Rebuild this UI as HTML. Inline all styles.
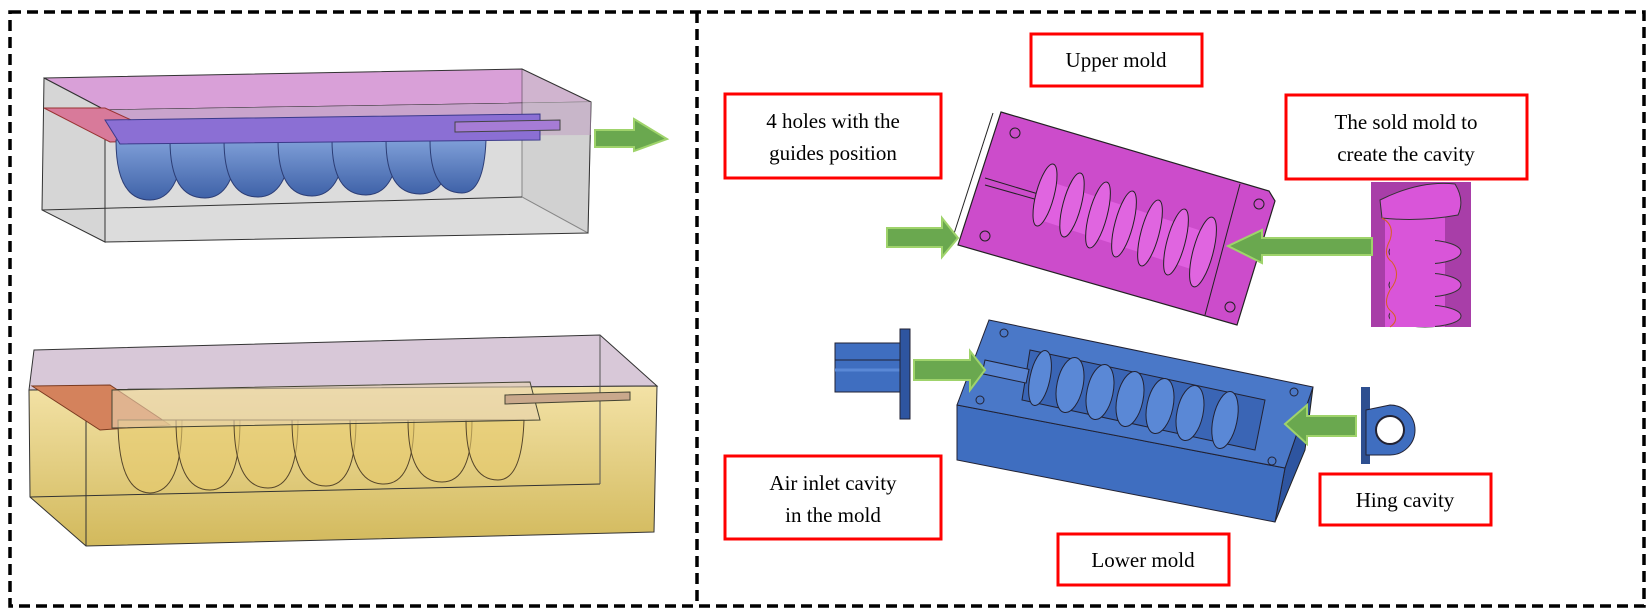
<!DOCTYPE html>
<html><head><meta charset="utf-8"><style>
html,body{margin:0;padding:0;background:#fff;}
svg{display:block;}
text{font-family:"Liberation Serif",serif;font-size:21px;fill:#000;}
</style></head><body>
<svg width="1649" height="611" viewBox="0 0 1649 611" xmlns="http://www.w3.org/2000/svg">
<defs>
<linearGradient id="bl" x1="0" y1="0" x2="0" y2="1"><stop offset="0" stop-color="#7f9fd8"/><stop offset="1" stop-color="#3f62a8"/></linearGradient>
<linearGradient id="ye" x1="0" y1="0" x2="0" y2="1"><stop offset="0" stop-color="#f3e2a6"/><stop offset="1" stop-color="#d2b95c"/></linearGradient>
</defs>
<!-- borders -->
<rect x="10" y="12" width="1634" height="594" fill="none" stroke="#000" stroke-width="3.5" stroke-dasharray="11,6"/>
<line x1="697" y1="12" x2="697" y2="606" stroke="#000" stroke-width="3.5" stroke-dasharray="11,6"/>

<!-- TOP LEFT BOX -->
<polygon points="44,78 522,69 591,102 105,110" fill="#d9a0d8" stroke="#333" stroke-width="1"/>
<polygon points="44,78 105,110 105,242 42,210" fill="#d6d6d6" stroke="#333" stroke-width="1"/>
<polygon points="105,110 591,102 588,233 105,242" fill="#dcdcdc" stroke="#333" stroke-width="1"/>
<polygon points="105,110 591,102 591,135 105,138" fill="#c9a4cc" stroke="none"/>
<polygon points="522,69 591,102 588,233 522,197" fill="#c8c8c8" opacity="0.5" stroke="#333"/>
<line x1="42" y1="210" x2="522" y2="197" stroke="#333" stroke-width="1"/>
<polygon points="44,108 105,108 175,140 110,142" fill="#d87a9a" stroke="#933" stroke-width="1"/>
<g fill="url(#bl)" stroke="#2c3d75" stroke-width="1">
<path d="M116,140 Q116,200 150,200 Q180,200 184,140 Z"/>
<path d="M170,140 Q170,198 205,198 Q235,198 238,140 Z"/>
<path d="M224,140 Q224,197 258,197 Q288,197 292,140 Z"/>
<path d="M278,140 Q278,196 312,196 Q342,196 346,140 Z"/>
<path d="M332,140 Q332,195 366,195 Q396,195 400,140 Z"/>
<path d="M386,140 Q386,194 420,194 Q450,194 454,140 Z"/>
<path d="M430,140 Q430,193 462,193 Q484,193 486,140 Z"/>
</g>
<polygon points="105,120 540,114 540,140 120,144" fill="#8b6fd4" stroke="#3b3a8a" stroke-width="1"/>
<polygon points="455,122 560,120 560,130 455,132" fill="#a67cd6" stroke="#444"/>

<!-- arrow left panel -->
<polygon points="595,130 634,130 634,119 667,139 634,151 634,147 595,147" fill="#6aa84f" stroke="#9fd36b" stroke-width="2"/>

<!-- BOTTOM LEFT BOX -->
<polygon points="34,350 600,335 657,386 29,390" fill="#d8c8d8" stroke="#333" stroke-width="1"/>
<polygon points="29,390 657,386 654,532 86,546 30,497" fill="url(#ye)" stroke="#333" stroke-width="1"/>
<line x1="86" y1="400" x2="86" y2="546" stroke="#333"/>
<line x1="30" y1="497" x2="600" y2="484" stroke="#333"/>
<line x1="600" y1="335" x2="600" y2="484" stroke="#555"/>
<polygon points="32,386 110,385 170,425 100,430" fill="#d4825c" stroke="#7a3a20" stroke-width="1"/>
<g fill="#e6c96c" fill-opacity="0.6" stroke="#55452a" stroke-width="1">
<path d="M118,420 Q118,492 150,493 Q182,492 182,420 Z"/>
<path d="M176,420 Q176,490 210,490 Q240,490 240,420 Z"/>
<path d="M234,420 Q234,488 268,488 Q298,488 298,420 Z"/>
<path d="M292,420 Q292,486 326,486 Q356,486 356,420 Z"/>
<path d="M350,420 Q350,484 384,484 Q414,484 414,420 Z"/>
<path d="M408,420 Q408,482 442,482 Q472,482 472,420 Z"/>
<path d="M466,420 Q466,480 498,480 Q522,480 524,420 Z"/>
</g>
<polygon points="112,390 530,382 540,420 112,428" fill="#e8d3b0" fill-opacity="0.6" stroke="#443" stroke-width="1"/>
<polygon points="505,395 630,392 630,400 505,404" fill="#c9a88c" stroke="#443"/>

<!-- UPPER MOLD (magenta) -->
<polygon points="1001,112 1269,191 1275,201 1237,325 958,245" fill="#cc4ccb" stroke="#222" stroke-width="1.2"/>
<line x1="993" y1="113" x2="951" y2="243" stroke="#222"/>
<line x1="1240" y1="184" x2="1205" y2="315" stroke="#222"/>
<line x1="985" y1="178" x2="1045" y2="196" stroke="#222"/><line x1="985" y1="185" x2="1045" y2="202" stroke="#222"/>
<circle cx="1015" cy="133" r="5" fill="none" stroke="#222"/>
<circle cx="985" cy="236" r="5" fill="none" stroke="#222"/>
<circle cx="1259" cy="204" r="5" fill="none" stroke="#222"/>
<circle cx="1230" cy="307" r="5" fill="none" stroke="#222"/>
<polygon points="1045,180 1205,232 1200,272 1040,220" fill="#e060e0"/>
<g fill="#e065e0" stroke="#222" stroke-width="1">
<ellipse cx="1045" cy="195" rx="9" ry="32" transform="rotate(15 1045 195)"/>
<ellipse cx="1072" cy="205" rx="9" ry="33" transform="rotate(15 1072 205)"/>
<ellipse cx="1098" cy="215" rx="9" ry="34" transform="rotate(15 1098 215)"/>
<ellipse cx="1124" cy="224" rx="9" ry="34" transform="rotate(15 1124 224)"/>
<ellipse cx="1150" cy="233" rx="9" ry="34" transform="rotate(15 1150 233)"/>
<ellipse cx="1176" cy="242" rx="9" ry="34" transform="rotate(15 1176 242)"/>
<ellipse cx="1203" cy="252" rx="10" ry="36" transform="rotate(15 1203 252)"/>
</g>

<!-- cavity insert -->
<rect x="1371" y="182" width="100" height="145" fill="#a83ea8"/>
<g fill="#d955d9" stroke="#333" stroke-width="1">
<rect x="1385" y="200" width="60" height="127" stroke="none"/>
<ellipse cx="1425" cy="252" rx="36" ry="12"/>
<ellipse cx="1425" cy="285" rx="36" ry="12"/>
<ellipse cx="1425" cy="316" rx="36" ry="11"/>
<rect x="1390" y="230" width="45" height="97" stroke="none"/>
<path d="M1380,200 Q1420,180 1455,184 Q1465,200 1458,215 Q1420,222 1382,218 Z"/>
</g>
<path d="M1382,218 Q1395,225 1390,240 Q1382,255 1392,262 Q1402,275 1390,290 Q1382,305 1392,312 Q1400,320 1390,327" fill="none" stroke="#d86020" stroke-width="1"/>

<!-- LOWER MOLD (blue) -->
<polygon points="1313,387 1285,468 1275,522 1305,450" fill="#2e55a0" stroke="#222"/>
<polygon points="957,405 1285,468 1275,522 957,460" fill="#3f6ec0" stroke="#223"/>
<polygon points="989,320 1313,387 1285,468 957,405" fill="#4a78c8" stroke="#223" stroke-width="1"/>
<polygon points="1030,350 1265,400 1255,450 1022,400" fill="#3a65b5" stroke="#223"/>
<rect x="985" y="360" width="45" height="14" fill="#5a86d4" stroke="#223" transform="rotate(12 985 360)"/>
<g fill="#5a88d6" stroke="#223" stroke-width="1">
<ellipse cx="1040" cy="378" rx="10" ry="28" transform="rotate(12 1040 378)"/>
<ellipse cx="1070" cy="385" rx="13" ry="28" transform="rotate(12 1070 385)"/>
<ellipse cx="1100" cy="392" rx="13" ry="28" transform="rotate(12 1100 392)"/>
<ellipse cx="1130" cy="399" rx="13" ry="28" transform="rotate(12 1130 399)"/>
<ellipse cx="1160" cy="406" rx="13" ry="28" transform="rotate(12 1160 406)"/>
<ellipse cx="1190" cy="413" rx="13" ry="28" transform="rotate(12 1190 413)"/>
<ellipse cx="1225" cy="420" rx="12" ry="29" transform="rotate(12 1225 420)"/>
</g>
<circle cx="1004" cy="333" r="4" fill="none" stroke="#223"/>
<circle cx="980" cy="400" r="4" fill="none" stroke="#223"/>
<circle cx="1294" cy="392" r="4" fill="none" stroke="#223"/>
<circle cx="1272" cy="461" r="4" fill="none" stroke="#223"/>

<!-- air inlet part -->
<rect x="835" y="343" width="65" height="49" fill="#3f6ec0" stroke="#223"/>
<line x1="835" y1="360" x2="900" y2="360" stroke="#223"/><line x1="835" y1="370" x2="900" y2="370" stroke="#5a88d6" stroke-width="3"/>
<rect x="900" y="329" width="10" height="90" fill="#2e55a0" stroke="#223"/>

<!-- hinge part -->
<rect x="1361" y="387" width="9" height="77" fill="#2e4f90"/>
<path d="M1366,410 L1390,405 A25,25 0 0 1 1390,455 L1366,455 Z" fill="#3f6ec0" stroke="#223"/>
<circle cx="1390" cy="430" r="14" fill="#fff" stroke="#223" stroke-width="2"/>

<!-- green arrows -->
<g fill="#6aa84f" stroke="#9fd36b" stroke-width="2">
<polygon points="887,228 942,228 942,218 958,238 942,257 942,247 887,247"/>
<polygon points="1372,238 1262,238 1262,230 1228,246 1262,263 1262,255 1372,255"/>
<polygon points="914,360 970,360 970,351 985,370 970,390 970,380 914,380"/>
<polygon points="1356,416 1307,416 1307,405 1285,424 1307,444 1307,436 1356,436"/>
</g>

<!-- labels -->
<g fill="#fff" stroke="#ff0000" stroke-width="3">
<rect x="1031" y="34" width="171" height="52"/>
<rect x="725" y="94" width="216" height="84"/>
<rect x="1286" y="95" width="241" height="84"/>
<rect x="725" y="456" width="216" height="83"/>
<rect x="1320" y="474" width="171" height="51"/>
<rect x="1058" y="534" width="171" height="51"/>
</g>
<text x="1116" y="67" text-anchor="middle">Upper mold</text>
<text x="833" y="128" text-anchor="middle">4 holes with the</text>
<text x="833" y="160" text-anchor="middle">guides position</text>
<text x="1406" y="129" text-anchor="middle">The sold mold to</text>
<text x="1406" y="161" text-anchor="middle">create the cavity</text>
<text x="833" y="490" text-anchor="middle">Air inlet cavity</text>
<text x="833" y="522" text-anchor="middle">in the mold</text>
<text x="1405" y="507" text-anchor="middle">Hing cavity</text>
<text x="1143" y="567" text-anchor="middle">Lower mold</text>
</svg>
</body></html>
